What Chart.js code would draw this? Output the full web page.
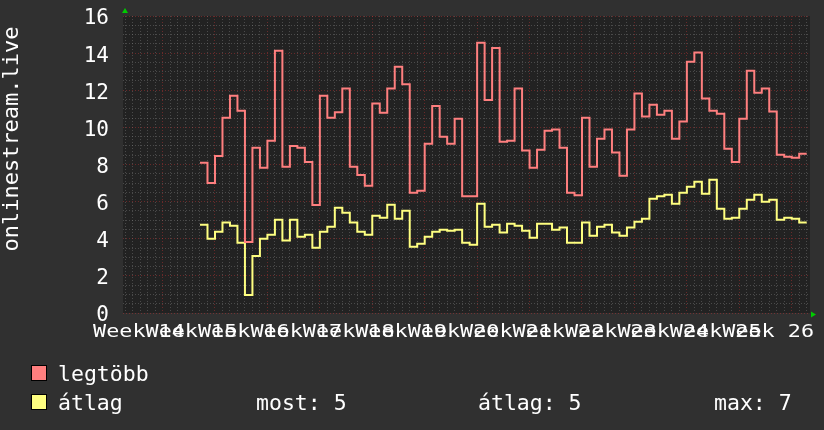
<!DOCTYPE html>
<html>
<head>
<meta charset="utf-8">
<script src="https://cdn.jsdelivr.net/npm/chart.js@4.4.1/dist/chart.umd.min.js"></script>
<style>
  html, body { margin: 0; padding: 0; background: #303030; }
  canvas { display: block; }
</style>
</head>
<body>
<canvas id="chart" width="824" height="430"></canvas>
<script>
// --- Data (one value per day) ---
const weekLabels = ['Week 14', 'Week 15', 'Week 16', 'Week 17', 'Week 18', 'Week 19', 'Week 20',
                    'Week 21', 'Week 22', 'Week 23', 'Week 24', 'Week 25', 'Week 26'];

const legtobb = [
    8.1, 7.0, 8.46, 10.52, 11.71, 10.9, 3.83, 8.9, 7.83, 9.28, 14.13, 7.88, 9.0, 8.9,
    8.14, 5.82, 11.71, 10.52, 10.81, 12.09, 7.88, 7.43, 6.86, 11.28, 10.79, 12.09, 13.27,
    12.32, 6.48, 6.59, 9.12, 11.15, 9.5, 9.12, 10.47, 6.29, 6.29, 14.56, 11.48, 14.28, 9.23,
    9.28, 12.09, 8.75, 7.83, 8.8, 9.82, 9.88, 8.9, 6.48, 6.34, 10.52, 7.88, 9.39, 9.88,
    8.64, 7.4, 9.88, 11.82, 10.58, 11.22, 10.68, 10.9, 9.39, 10.31, 13.54, 14.03, 11.55,
    10.9, 10.74, 8.85, 8.14, 10.47, 13.05, 11.87, 12.09, 10.85, 8.53, 8.42, 8.37, 8.58
];

const atlag = [
    4.76, 4.0, 4.38, 4.87, 4.7, 3.79, 0.97, 3.07, 4.0, 4.22, 5.03, 3.9, 5.03, 4.11,
    4.22, 3.52, 4.38, 4.65, 5.67, 5.4, 4.87, 4.38, 4.22, 5.24, 5.13, 5.83, 5.08,
    5.51, 3.57, 3.73, 4.11, 4.38, 4.49, 4.43, 4.49, 3.79, 3.68, 5.89, 4.65, 4.76, 4.33,
    4.81, 4.7, 4.43, 4.06, 4.81, 4.81, 4.49, 4.6, 3.79, 3.79, 4.87, 4.16, 4.65, 4.76,
    4.33, 4.16, 4.6, 4.92, 5.08, 6.16, 6.29, 6.37, 5.89, 6.48, 6.8, 7.07, 6.43,
    7.18, 5.62, 5.08, 5.13, 5.62, 6.1, 6.37, 6.0, 6.1, 5.03, 5.13, 5.08, 4.87
];

// --- Look ---
const FONT = '"DejaVu Sans Mono", monospace';
const RED = '#ff7f7f';
const YELLOW = '#ffff80';
const GRID_MINOR = 'rgba(140, 140, 140, 0.38)';
const GRID_MAJOR = 'rgba(255, 60, 60, 0.32)';
const X_MIN = -10.28, X_MAX = 81.44;   // days, data starts at day 0
const FIRST_MAJOR = -5;                // first week line
const FIRST_LABEL = -8.15;             // centre of the "Week 14" label

// step series: each day value holds until the next day
function toSteps(values) {
    const pts = values.map((v, i) => ({ x: i, y: v }));
    pts.push({ x: values.length, y: values[values.length - 1] });
    return pts;
}

const xGrid = [];
for (let d = Math.ceil(X_MIN); d <= X_MAX; d++) xGrid.push(d);
const yGrid = [];
for (let v = 0; v <= 16; v += 0.5) yGrid.push(v);

const avg = atlag.reduce((a, b) => a + b, 0) / atlag.length;
const stats = {
    most: atlag[atlag.length - 1].toFixed(0),
    atlag: avg.toFixed(0),
    max: Math.max(...atlag).toFixed(0),
};

// --- rrdtool-like decorations ---
const rrdDecor = {
    id: 'rrdDecor',
    beforeDraw(chart) {
        const { ctx, chartArea: a } = chart;
        ctx.save();
        ctx.fillStyle = '#222222';
        ctx.fillRect(a.left, a.top, a.right - a.left, a.bottom - a.top);
        ctx.restore();
    },
    afterDraw(chart) {
        const { ctx, chartArea: a } = chart;
        const xs = chart.scales.x;
        ctx.save();

        // week labels (wide font, they overlap like the original)
        ctx.fillStyle = '#ffffff';
        ctx.font = '17px ' + FONT;
        ctx.textAlign = 'center';
        ctx.textBaseline = 'alphabetic';
        weekLabels.forEach((t, i) => {
            const px = xs.getPixelForValue(FIRST_LABEL + 7 * i);
            ctx.save();
            ctx.translate(px, 337);
            ctx.scale(1.28, 1);
            ctx.fillText(t, 0, 0);
            ctx.restore();
        });

        // vertical title
        ctx.save();
        ctx.font = '22px ' + FONT;
        ctx.translate(18, 139);
        ctx.rotate(-Math.PI / 2);
        ctx.textAlign = 'center';
        ctx.fillText('onlinestream.live', 0, 0);
        ctx.restore();

        // axis arrows
        ctx.fillStyle = '#00cc00';
        ctx.beginPath();
        ctx.moveTo(a.left + 2, a.top - 8);
        ctx.lineTo(a.left - 1, a.top - 3);
        ctx.lineTo(a.left + 5, a.top - 3);
        ctx.fill();
        ctx.beginPath();
        ctx.moveTo(a.right + 6, a.bottom + 1.5);
        ctx.lineTo(a.right + 1, a.bottom - 1.5);
        ctx.lineTo(a.right + 1, a.bottom + 4.5);
        ctx.fill();

        // legend
        ctx.font = '21.5px ' + FONT;
        ctx.textAlign = 'left';
        ctx.lineWidth = 1;
        ctx.strokeStyle = '#000000';
        ctx.fillStyle = RED;
        ctx.fillRect(31, 365, 16, 16);
        ctx.strokeRect(31.5, 365.5, 15, 15);
        ctx.fillStyle = YELLOW;
        ctx.fillRect(31, 394, 16, 16);
        ctx.strokeRect(31.5, 394.5, 15, 15);
        ctx.fillStyle = '#ffffff';
        ctx.fillText('legtöbb', 58, 380.5);
        ctx.fillText('átlag', 58, 409.5);
        ctx.fillText('most: ' + stats.most, 256, 409.5);
        ctx.fillText('átlag: ' + stats.atlag, 478, 409.5);
        ctx.fillText('max: ' + stats.max, 714, 409.5);

        ctx.restore();
    }
};

new Chart(document.getElementById('chart'), {
    type: 'line',
    data: {
        datasets: [
            {
                label: 'legtöbb',
                data: toSteps(legtobb),
                borderColor: RED,
                borderWidth: 2,
                pointRadius: 0,
                stepped: true,
                fill: false,
            },
            {
                label: 'átlag',
                data: toSteps(atlag),
                borderColor: YELLOW,
                borderWidth: 2,
                pointRadius: 0,
                stepped: true,
                fill: false,
            }
        ]
    },
    options: {
        responsive: false,
        animation: false,
        layout: { padding: { top: 16, right: 14, left: 0, bottom: 0 } },
        plugins: { legend: { display: false }, tooltip: { enabled: false } },
        scales: {
            x: {
                type: 'linear',
                min: X_MIN,
                max: X_MAX,
                afterBuildTicks: s => { s.ticks = xGrid.map(v => ({ value: v })); },
                afterFit: s => { s.height = 117; },
                ticks: { display: false, autoSkip: false },
                grid: {
                    drawTicks: false,
                    lineWidth: 1,
                    color: c => ((c.tick.value - FIRST_MAJOR) % 7 === 0 ? GRID_MAJOR : GRID_MINOR),
                },
                border: { display: false, dash: [1, 2] },
            },
            y: {
                type: 'linear',
                min: 0,
                max: 16,
                afterBuildTicks: s => { s.ticks = yGrid.map(v => ({ value: v })); },
                afterFit: s => { s.width = 123; },
                ticks: {
                    autoSkip: false,
                    padding: 0,
                    labelOffset: 3,
                    color: '#ffffff',
                    font: { family: FONT, size: 21, lineHeight: 1 },
                    callback: v => (v % 2 === 0 ? String(v) : ''),
                },
                grid: {
                    drawTicks: true,
                    tickLength: 14,
                    tickColor: 'transparent',
                    lineWidth: 1,
                    color: c => (c.tick.value % 2 === 0 ? GRID_MAJOR : GRID_MINOR),
                },
                border: { display: false, dash: [1, 2] },
            }
        }
    },
    plugins: [rrdDecor]
});
</script>
</body>
</html>
